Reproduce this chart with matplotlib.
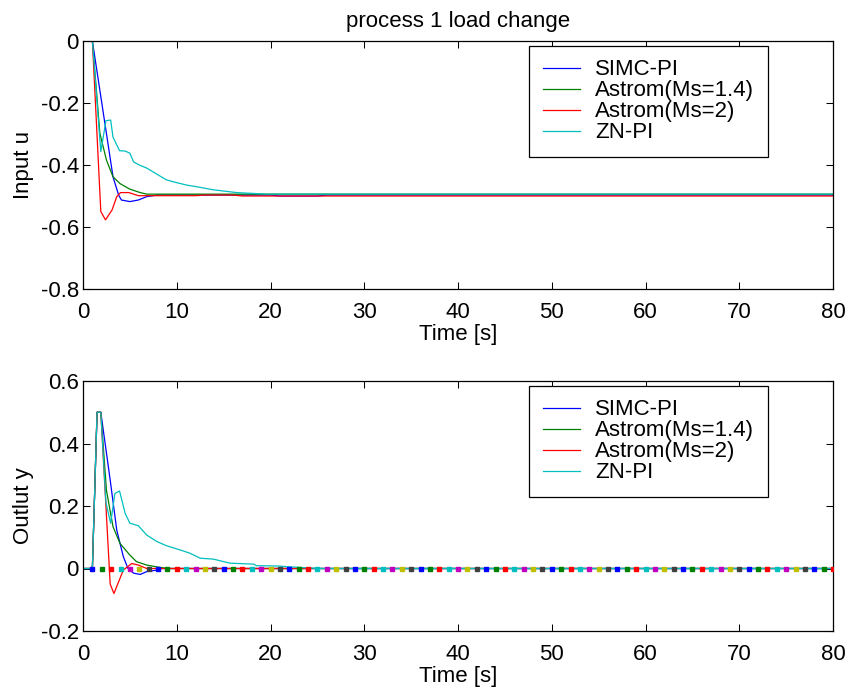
import numpy as np
import matplotlib
matplotlib.use("Agg")
import matplotlib.pyplot as plt

plt.rcParams['font.family'] = ['Liberation Sans', 'DejaVu Sans']
plt.rcParams['axes.unicode_minus'] = False

labels = ["SIMC-PI", "Astrom(Ms=1.4)", "Astrom(Ms=2)", "ZN-PI"]
line_colors = ["#0000ff", "#008000", "#ff0000", "#00bfbf"]

# input u (top panel)
simc_u_t = [0, 1, 3.2, 3.8, 4.1, 5.0, 5.9, 6.8, 7.9, 20, 21, 25, 26, 30, 80]
simc_u = [0, 0, -0.438, -0.497, -0.513, -0.518, -0.513, -0.502, -0.497,
          -0.497, -0.5, -0.5, -0.497, -0.497, -0.497]
ast14_u_t = [0, 1, 1.8, 2.5, 3.2, 3.95, 5.0, 6.1, 6.8, 80]
ast14_u = [0, 0, -0.298, -0.384, -0.438, -0.46, -0.478, -0.489, -0.494, -0.494]
ast2_u_t = [0, 1, 1.9, 2.4, 3.1, 3.6, 4.0, 4.9, 5.9, 8, 12, 13, 16, 17, 80]
ast2_u = [0, 0, -0.55, -0.577, -0.545, -0.502, -0.489, -0.489, -0.499,
          -0.499, -0.499, -0.497, -0.497, -0.5, -0.5]
zn_u_t = [0, 1, 1.9, 2.45, 2.95, 3.2, 3.9, 4.5, 5.0, 5.4, 6.0, 6.8, 7.9,
          8.9, 10, 11.1, 12.1, 13.9, 16.4, 19.6, 80]
zn_u = [0, 0, -0.357, -0.257, -0.255, -0.31, -0.354, -0.355, -0.362, -0.39,
        -0.40, -0.41, -0.43, -0.448, -0.457, -0.465, -0.47, -0.48, -0.489,
        -0.494, -0.494]

# output y (bottom panel)
simc_y_t = [0, 1, 1.5, 1.9, 2.9, 3.6, 4.3, 4.8, 5.4, 6.1, 6.8, 7.9, 8.4, 80]
simc_y = [0, 0, 0.5, 0.5, 0.283, 0.123, 0.038, 0, -0.015, -0.019, -0.01,
          -0.005, 0, 0]
ast14_y_t = [0, 1, 1.5, 1.9, 2.5, 3.2, 3.95, 5.0, 5.7, 6.8, 7.9, 9, 80]
ast14_y = [0, 0, 0.5, 0.5, 0.25, 0.134, 0.08, 0.043, 0.022, 0.011, 0.005, 0, 0]
ast2_y_t = [0, 1, 1.5, 1.9, 2.9, 3.3, 4.3, 5.2, 5.9, 6.8, 80]
ast2_y = [0, 0, 0.5, 0.5, -0.05, -0.08, -0.005, 0.016, 0.011, 0, 0]
zn_y_t = [0, 1, 1.5, 1.9, 2.45, 2.95, 3.4, 3.9, 4.5, 5.0, 5.9, 6.8, 7.9,
          8.9, 10.4, 11.4, 12.5, 13.9, 15.7, 18.2, 18.5, 20.7, 25, 80]
zn_y = [0, 0, 0.5, 0.5, 0.21, 0.145, 0.24, 0.248, 0.176, 0.145, 0.137,
        0.107, 0.086, 0.073, 0.059, 0.049, 0.033, 0.03, 0.017, 0.014, 0.009,
        0.008, 0, 0]

# setpoint samples drawn as coloured dots in the bottom panel
ref_t = list(range(1, 81))
ref_y = [0] * len(ref_t)
dot_colors = ["#0000ff", "#008000", "#ff0000", "#00bfbf", "#bf00bf",
              "#bfbf00", "#404040"]

top_series = [(simc_u_t, simc_u), (ast14_u_t, ast14_u),
              (ast2_u_t, ast2_u), (zn_u_t, zn_u)]
bot_series = [(simc_y_t, simc_y), (ast14_y_t, ast14_y),
              (ast2_y_t, ast2_y), (zn_y_t, zn_y)]

FS = 16
fig = plt.figure(figsize=(8.48, 6.94), dpi=100)
W, H = 848, 694
ax1 = fig.add_axes([83 / W, 1 - 289 / H, 750 / W, 248 / H])
ax2 = fig.add_axes([83 / W, 1 - 631 / H, 750 / W, 250 / H])


def style(ax, yticks):
    ax.set_xlim(0, 80)
    ax.set_xticks(range(0, 81, 10))
    ax.set_yticks(yticks)
    ax.set_yticklabels(["%g" % v for v in yticks])
    ax.set_ylim(yticks[0], yticks[-1])
    ax.tick_params(direction="in", length=5, width=0.75, top=True,
                   right=True, labelsize=FS)
    ax.tick_params(axis="x", pad=9)
    ax.tick_params(axis="y", pad=3)
    for s in ax.spines.values():
        s.set_linewidth(0.9)
    ax.set_xlabel("Time [s]", fontsize=FS, labelpad=1)


for (t, v), c, lab in zip(top_series, line_colors, labels):
    ax1.plot(t, v, color=c, lw=0.9, label=lab)
for (t, v), c, lab in zip(bot_series, line_colors, labels):
    ax2.plot(t, v, color=c, lw=0.9, label=lab)

ref_t = np.array(ref_t)
ref_y = np.array(ref_y)
for k, c in enumerate(dot_colors):
    ax2.plot(ref_t[k::7], ref_y[k::7], ls="none", marker="s", ms=3,
             mec=c, mfc=c, zorder=3)

style(ax1, [-0.8, -0.6, -0.4, -0.2, 0])
style(ax2, [-0.2, 0, 0.2, 0.4, 0.6])
ax1.set_ylabel("Input u", fontsize=FS, labelpad=5)
ax2.set_ylabel("Outlut y", fontsize=FS, labelpad=5)
ax1.set_title("process 1 load change", fontsize=FS, pad=10)

for ax in (ax1, ax2):
    leg = ax.legend(loc="upper right", bbox_to_anchor=(0.913, 0.98),
                    fontsize=FS, fancybox=False, framealpha=1,
                    edgecolor="black", handlelength=1.7, handletextpad=0.68,
                    labelspacing=0.0, borderpad=0.6, borderaxespad=0)
    leg.get_frame().set_linewidth(0.9)

fig.savefig("out.png", dpi=100)
